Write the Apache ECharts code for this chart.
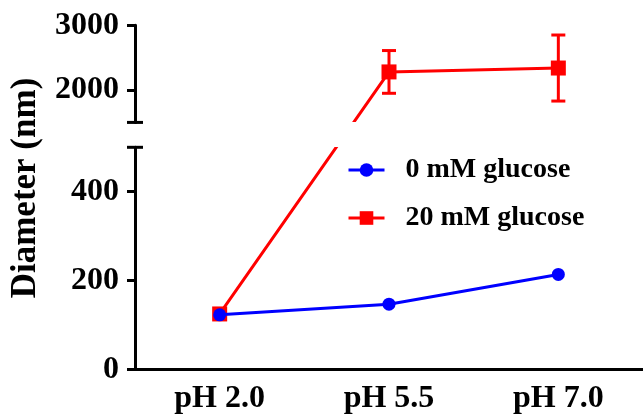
<!DOCTYPE html>
<html>
<head>
<meta charset="utf-8">
<script src="https://cdn.jsdelivr.net/npm/echarts@6/dist/echarts.min.js"></script>
<style>
html,body{margin:0;padding:0;background:#fff;}
#chart{width:643px;height:418px;}
</style>
</head>
<body>
<div id="chart"></div>
<script>
// ---- data ----
const categories = ['pH 2.0', 'pH 5.5', 'pH 7.0'];
const glucose0 = [123, 147, 214];
const glucose20 = [125, 2280, 2340];
const glucose20Err = [0, 330, 510];
const lowerTicks = [0, 200, 400];
const upperTicks = [2000, 3000];
const seriesNames = ['0 mM glucose', '20 mM glucose'];
const yTitle = 'Diameter (nm)';

// ---- broken axis definition ----
const LOW_MAX = 500, HIGH_MIN = 1500, HIGH_MAX = 3000;
const GAP = 56;       // gap in lower-segment units
const R = 0.1457;     // upper segment scale relative to lower
function f(y) { return y <= LOW_MAX ? y : LOW_MAX + GAP + (y - HIGH_MIN) * R; }

const PLOT_TOP = 25.3, PLOT_BOTTOM = 369.5, LEFT = 135, WIDTH = 513;
const V = f(HIGH_MAX);
const ppu = (PLOT_BOTTOM - PLOT_TOP) / V;

const FONT = 'Liberation Serif';
const labelStyle = { fontFamily: FONT, fontWeight: 'bold', fontSize: 32, color: '#000' };
const axisLineStyle = { color: '#000', width: 3 };
const plain = v => String(v);

const chart = echarts.init(document.getElementById('chart'), null, { renderer: 'canvas' });

const option = {
  animation: false,
  backgroundColor: '#fff',
  grid: [
    { left: LEFT, width: WIDTH, top: PLOT_TOP, height: PLOT_BOTTOM - PLOT_TOP },
    { left: LEFT, width: WIDTH, top: PLOT_BOTTOM - LOW_MAX * ppu, height: LOW_MAX * ppu },
    { left: LEFT, width: WIDTH, top: PLOT_TOP, height: (HIGH_MAX - HIGH_MIN) * R * ppu }
  ],
  xAxis: [
    {
      gridIndex: 0, type: 'category', data: categories, boundaryGap: true,
      axisLine: { lineStyle: axisLineStyle },
      axisTick: { alignWithLabel: true, length: 9, lineStyle: { color: '#000', width: 3 } },
      axisLabel: Object.assign({ margin: 13 }, labelStyle),
      splitLine: { show: false }
    },
    { gridIndex: 1, type: 'category', data: categories, show: false },
    { gridIndex: 2, type: 'category', data: categories, show: false }
  ],
  yAxis: [
    { gridIndex: 0, type: 'value', min: 0, max: V, show: false },
    {
      gridIndex: 1, type: 'value', min: 0, max: LOW_MAX,
      axisLine: { show: true, lineStyle: axisLineStyle, symbol: ['none', 'rect'], symbolSize: [16, 3] },
      axisTick: { show: true, length: 8, customValues: lowerTicks, lineStyle: { color: '#000', width: 3 } },
      axisLabel: Object.assign({ margin: 16, customValues: lowerTicks, formatter: plain }, labelStyle),
      splitLine: { show: false }
    },
    {
      gridIndex: 2, type: 'value', min: HIGH_MIN, max: HIGH_MAX,
      axisLine: { show: true, lineStyle: axisLineStyle, symbol: ['rect', 'none'], symbolSize: [16, 3] },
      axisTick: { show: true, length: 8, customValues: upperTicks, lineStyle: { color: '#000', width: 3 } },
      axisLabel: Object.assign({ margin: 16, customValues: upperTicks, formatter: plain }, labelStyle),
      splitLine: { show: false }
    }
  ],
  legend: {
    orient: 'vertical', left: 347, top: 156, padding: 0,
    data: seriesNames,
    itemWidth: 36, itemHeight: 17, itemGap: 20,
    lineStyle: { width: 3 },
    textStyle: { fontFamily: FONT, fontWeight: 'bold', fontSize: 28, color: '#000', padding: [0, 0, 0, 16] }
  },
  visualMap: {
    type: 'piecewise', show: false, seriesIndex: 0, dimension: 1,
    pieces: [
      { lte: LOW_MAX, color: '#ff0000' },
      { gt: LOW_MAX, lt: LOW_MAX + GAP, color: 'rgba(255,255,255,0)' },
      { gte: LOW_MAX + GAP, color: '#ff0000' }
    ]
  },
  graphic: [{
    type: 'text', x: 26, y: 188, rotation: Math.PI / 2,
    style: { text: yTitle, fontFamily: FONT, fontWeight: 'bold', fontSize: 35, fill: '#000', align: 'center', verticalAlign: 'middle' }
  }],
  series: [
    {
      name: seriesNames[1], type: 'line', xAxisIndex: 0, yAxisIndex: 0,
      data: glucose20.map(f),
      symbol: 'rect', symbolSize: 15,
      itemStyle: { color: '#ff0000' },
      lineStyle: { width: 3 },
      z: 3
    },
    {
      name: 'err', type: 'custom', xAxisIndex: 0, yAxisIndex: 0,
      data: glucose20.map((v, i) => [i, f(v + glucose20Err[i]), f(v - glucose20Err[i])]),
      renderItem: function (params, api) {
        const top = api.coord([api.value(0), api.value(1)]);
        const bot = api.coord([api.value(0), api.value(2)]);
        if (Math.abs(top[1] - bot[1]) < 1) return null;
        const hw = 7;
        const st = { stroke: '#ff0000', lineWidth: 3 };
        return {
          type: 'group',
          children: [
            { type: 'line', shape: { x1: top[0], y1: top[1], x2: bot[0], y2: bot[1] }, style: st },
            { type: 'line', shape: { x1: top[0] - hw, y1: top[1], x2: top[0] + hw, y2: top[1] }, style: st },
            { type: 'line', shape: { x1: bot[0] - hw, y1: bot[1], x2: bot[0] + hw, y2: bot[1] }, style: st }
          ]
        };
      },
      z: 3
    },
    {
      name: seriesNames[0], type: 'line', xAxisIndex: 0, yAxisIndex: 0,
      data: glucose0.map(f),
      symbol: 'circle', symbolSize: 13,
      itemStyle: { color: '#0000ff' },
      lineStyle: { color: '#0000ff', width: 3 },
      z: 4
    }
  ]
};
chart.setOption(option);
</script>
</body>
</html>
